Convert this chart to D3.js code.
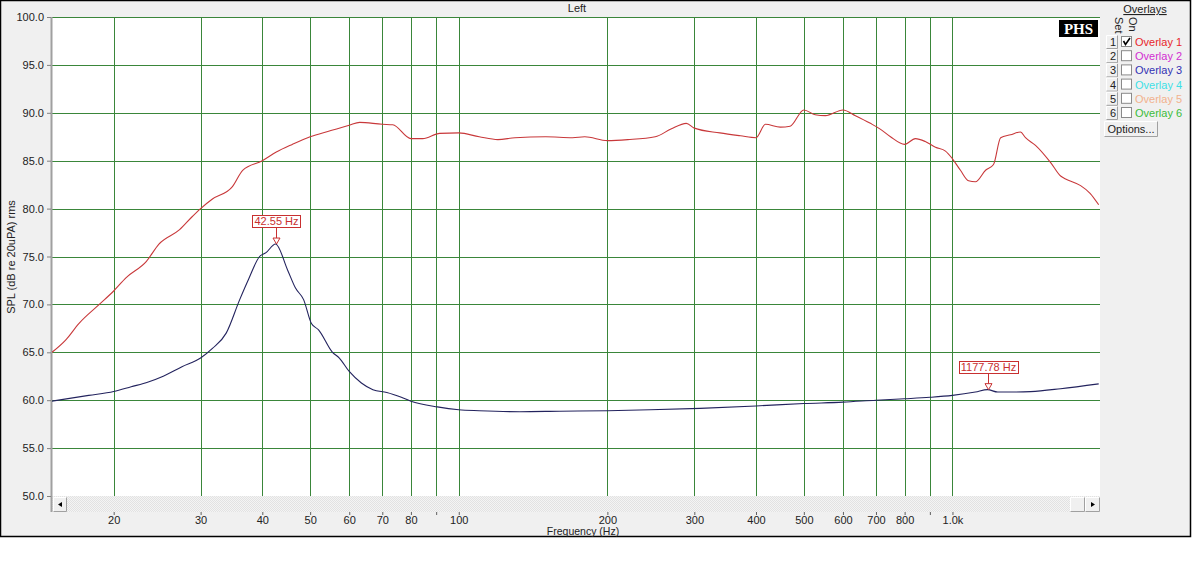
<!DOCTYPE html>
<html><head><meta charset="utf-8">
<script src="https://cdn.jsdelivr.net/npm/d3@7"></script>
<style>
html,body{margin:0;padding:0;background:#fff;}
</style></head>
<body>
<svg id="chart" width="1200" height="586" font-family="Liberation Sans, Arial, sans-serif"></svg>
<script>
// ---------- DATA ----------
const chartTitle = "Left";
const yAxisLabel = "SPL (dB re 20uPA) rms";
const xAxisLabel = "Frequency (Hz)";
const yTicks = [50,55,60,65,70,75,80,85,90,95,100];
const xGridTicks = [20,30,40,50,60,70,80,90,100,200,300,400,500,600,700,800,900,1000];
const xTickLabels = {20:"20",30:"30",40:"40",50:"50",60:"60",70:"70",80:"80",100:"100",200:"200",300:"300",400:"400",500:"500",600:"600",700:"700",800:"800",1000:"1.0k"};

const redFreq = [15,16,17,18.7,20,21.2,23.3,24.7,27.2,28.9,30,31.7,34.8,36.5,40,42.7,46,50,54.7,60,63,70,73.5,80,84.5,91.5,100,110,120,130,150,170,180,200,220,250,269,289,300,338,372,400,418,448,469,500,527,553,600,636,682,714,749,800,841,881,924,968,1000,1038,1078,1113,1167,1211,1252,1311,1373,1406,1473,1581,1656,1695,1818,1900,1978];
const redDb   = [65.0,66.3,68.0,70.0,71.4,72.8,74.5,76.3,77.8,79.2,80.0,81.0,82.3,84.0,85.0,85.9,86.7,87.5,88.1,88.7,89.0,88.8,88.75,87.3,87.3,87.85,87.9,87.5,87.2,87.4,87.5,87.4,87.5,87.1,87.2,87.5,88.3,88.9,88.4,87.9,87.6,87.4,88.8,88.5,88.6,90.3,89.8,89.7,90.3,89.7,88.9,88.3,87.5,86.7,87.3,87.0,86.4,86.0,85.2,84.0,82.9,82.8,84.0,84.6,87.4,87.7,88.0,87.4,86.6,84.8,83.4,83.1,82.4,81.6,80.4];

const blueFreq = [15,17.8,20,21.7,23.5,25.2,27.5,30,31.7,33.8,36,37.5,39.5,40.7,42.55,45,46.7,48.5,50.3,52,55.5,57.3,60,63.5,67,71.5,76.5,80,90.5,100,110,133,160,200,244,308,400,500,600,700,800,900,1000,1113,1178,1235,1311,1440,1656,1978];
const blueDb   = [59.9,60.5,60.9,61.4,61.9,62.5,63.5,64.4,65.4,67.0,70.5,72.6,75.0,75.4,76.3,73.6,71.7,70.5,68.0,67.35,65.0,64.4,63.0,61.8,61.1,60.8,60.3,59.9,59.3,59.0,58.9,58.8,58.85,58.9,59.0,59.15,59.4,59.65,59.8,60.0,60.15,60.3,60.5,60.85,61.1,60.85,60.85,60.9,61.2,61.7];

const markerFreqs = [42.55, 1177.78];
const markerLabels = ["42.55 Hz", "1177.78 Hz"];

const overlayNames = ["Overlay 1","Overlay 2","Overlay 3","Overlay 4","Overlay 5","Overlay 6"];
const overlayColors = ["#e8262c","#d22ed2","#3232b4","#3ee0e6","#f2b28e","#3cbc3c"];
const overlayChecked = [true,false,false,false,false,false];

// ---------- LAYOUT ----------
const svg = d3.select("#chart");
const L = 52, R = 1100, T = 17, B = 496;
const x = d3.scaleLog().domain([15, 1990]).range([L, R]);
const y = d3.scaleLinear().domain([50, 100]).range([B, T]);
const gridColor = "#3a863a";
const textColor = "#222";

// frame
svg.append("rect").attr("x",0.5).attr("y",0.5).attr("width",1190).attr("height",536)
  .attr("fill","#f0f0f0").attr("stroke","#000").attr("stroke-width",1.5);

// plot area
svg.append("rect").attr("x",L).attr("y",T).attr("width",R-L).attr("height",B-T).attr("fill","#fff");

const defs = svg.append("defs");
defs.append("clipPath").attr("id","clip")
  .append("rect").attr("x",L).attr("y",T).attr("width",R-L).attr("height",B-T);

// hatch pattern for scrollbar
const pat = defs.append("pattern").attr("id","hatch")
  .attr("width",2).attr("height",2).attr("patternUnits","userSpaceOnUse");
pat.append("rect").attr("width",2).attr("height",2).attr("fill","#f4f4f4");
pat.append("rect").attr("width",1).attr("height",1).attr("fill","#e2e2e2");
pat.append("rect").attr("x",1).attr("y",1).attr("width",1).attr("height",1).attr("fill","#e2e2e2");

// grid
const grid = svg.append("g");
grid.selectAll("line.h").data(yTicks).join("line")
  .attr("x1",L).attr("x2",R).attr("y1",d=>Math.round(y(d))+0.5).attr("y2",d=>Math.round(y(d))+0.5)
  .attr("stroke",gridColor).attr("stroke-width",1);
grid.selectAll("line.v").data(xGridTicks).join("line")
  .attr("x1",d=>Math.round(x(d))+0.5).attr("x2",d=>Math.round(x(d))+0.5).attr("y1",T).attr("y2",B)
  .attr("stroke",gridColor).attr("stroke-width",1);

// scrollbar
svg.append("rect").attr("x",L).attr("y",B).attr("width",R-L).attr("height",16).attr("fill","url(#hatch)");
function button(bx, by, w, h){
  const g = svg.append("g");
  g.append("rect").attr("x",bx).attr("y",by).attr("width",w).attr("height",h).attr("fill","#f0f0f0");
  g.append("path").attr("d",`M${bx+0.5},${by+h-0.5}V${by+0.5}H${bx+w-0.5}`).attr("fill","none").attr("stroke","#fff");
  g.append("path").attr("d",`M${bx+0.5},${by+h-0.5}H${bx+w-0.5}V${by+0.5}`).attr("fill","none").attr("stroke","#a0a0a0");
  return g;
}
button(L+1,B+1,14,15).append("path").attr("d",`M${L+10},${B+6}L${L+6},${B+8.5}L${L+10},${B+11}Z`).attr("fill","#000");
button(R-30,B+1,15,15);
button(R-15,B+1,15,15).append("path").attr("d",`M${R-9},${B+6}L${R-5},${B+8.5}L${R-9},${B+11}Z`).attr("fill","#000");

// left axis line
svg.append("line").attr("x1",L-0.5).attr("x2",L-0.5).attr("y1",T).attr("y2",B+16)
  .attr("stroke","#a0a0a0").attr("stroke-width",2);

// y axis ticks + labels
const yAxis = d3.axisLeft(y).tickValues(yTicks).tickSize(4).tickPadding(3).tickFormat(d3.format(".1f"));
const yg = svg.append("g").attr("transform",`translate(${L-1},0)`).call(yAxis);
yg.attr("font-family",null);
yg.select(".domain").remove();
yg.selectAll(".tick line").attr("stroke","#808080");
yg.selectAll(".tick text").attr("font-size",11).attr("fill",textColor);

// x axis ticks + labels
const xAxis = d3.axisBottom(x).tickValues(xGridTicks).tickSize(3).tickPadding(1)
  .tickFormat(d=>xTickLabels[d]||"");
const xg = svg.append("g").attr("transform",`translate(0,${B+16})`).call(xAxis);
xg.attr("font-family",null);
xg.select(".domain").remove();
xg.selectAll(".tick line").attr("stroke","#606060");
xg.selectAll(".tick text").attr("font-size",11).attr("fill",textColor);

// curves
const line = d3.line().x(d=>x(d[0])).y(d=>y(d[1])).curve(d3.curveMonotoneX);
const curves = svg.append("g").attr("clip-path","url(#clip)");
curves.append("path").datum(d3.zip(redFreq, redDb)).attr("d",line)
  .attr("fill","none").attr("stroke","#c8383a").attr("stroke-width",1.1);
curves.append("path").datum(d3.zip(blueFreq, blueDb)).attr("d",line)
  .attr("fill","none").attr("stroke","#23235e").attr("stroke-width",1.1);

// markers on blue curve
const blueInterp = f => {
  const lf = Math.log(f);
  for (let i=0;i<blueFreq.length-1;i++){
    if (f>=blueFreq[i] && f<=blueFreq[i+1]){
      const t=(lf-Math.log(blueFreq[i]))/(Math.log(blueFreq[i+1])-Math.log(blueFreq[i]));
      return blueDb[i]+t*(blueDb[i+1]-blueDb[i]);
    }
  }
  return blueDb[blueDb.length-1];
};
markerFreqs.forEach((f,i)=>{
  const mx = Math.round(x(f))+0.5, my = y(blueInterp(f));
  const g = svg.append("g");
  const txt = g.append("text").attr("x",mx).attr("y",my-19).attr("text-anchor","middle")
    .attr("font-size",11).attr("fill","#c83030").text(markerLabels[i]);
  const bb = txt.node().getBBox();
  g.insert("rect","text").attr("x",Math.round(bb.x-2)+0.5).attr("y",Math.round(bb.y)+0.5)
    .attr("width",Math.round(bb.width+4)).attr("height",Math.round(bb.height))
    .attr("fill","#fff").attr("stroke","#c83030");
  const top = Math.round(bb.y+bb.height)+0.5;
  g.append("line").attr("x1",mx).attr("x2",mx).attr("y1",top).attr("y2",my-6).attr("stroke","#c83030");
  g.append("path").attr("d",`M${mx-3.5},${my-6}L${mx+3.5},${my-6}L${mx},${my}Z`)
    .attr("fill","#fff").attr("stroke","#c83030");
});

// title and labels
svg.append("text").attr("x",577).attr("y",12).attr("text-anchor","middle").attr("font-size",11).attr("fill",textColor).text(chartTitle);
svg.append("text").attr("x",583).attr("y",535).attr("text-anchor","middle").attr("font-size",10.5).attr("fill",textColor).text(xAxisLabel);
svg.append("text").attr("transform","translate(15,257) rotate(-90)").attr("text-anchor","middle")
  .attr("font-size",11).attr("fill",textColor).text(yAxisLabel);

// PHS logo
svg.append("rect").attr("x",1059).attr("y",20).attr("width",39).attr("height",17).attr("fill","#000");
svg.append("text").attr("x",1078.5).attr("y",33.5).attr("text-anchor","middle").attr("fill","#fff")
  .attr("font-family","Liberation Serif, Times New Roman, serif").attr("font-weight","bold").attr("font-size",15).text("PHS");

// overlays panel
svg.append("text").attr("x",1145).attr("y",13).attr("text-anchor","middle").attr("font-size",11).attr("fill",textColor)
  .attr("text-decoration","underline").text("Overlays");
svg.append("text").attr("transform","translate(1115,17) rotate(90)").attr("font-size",11).attr("fill",textColor).text("Set");
svg.append("text").attr("transform","translate(1129,17) rotate(90)").attr("font-size",11).attr("fill",textColor).text("On");

const rowY = d3.scaleLinear().domain([0,5]).range([42,113]);
overlayNames.forEach((name,i)=>{
  const cy = rowY(i);
  const b = button(1106, cy-7, 12, 14);
  b.append("text").attr("x",1113).attr("y",cy+4).attr("text-anchor","middle").attr("font-size",11).attr("fill",textColor).text(i+1);
  svg.append("rect").attr("x",1121.5).attr("y",cy-5.5).attr("width",10).attr("height",10)
    .attr("fill","#fff").attr("stroke","#8a8a8a");
  if (overlayChecked[i]) {
    svg.append("path").attr("d",`M${1123.5},${cy-1}L${1125.5},${cy+2.5}L${1130},${cy-4}`)
      .attr("fill","none").attr("stroke","#000").attr("stroke-width",1.6);
  }
  svg.append("text").attr("x",1135).attr("y",cy+4).attr("font-size",11).attr("fill",overlayColors[i]).text(name);
});
const ob = button(1104, 121, 54, 16);
ob.append("text").attr("x",1131).attr("y",133).attr("text-anchor","middle").attr("font-size",11).attr("fill",textColor).text("Options...");
</script>
</body></html>
